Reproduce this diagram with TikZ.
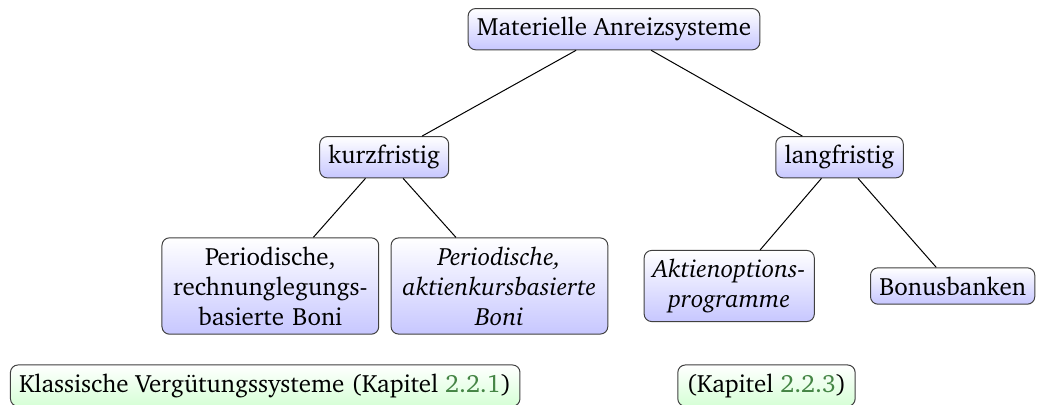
\documentclass[tikz,border=0pt]{standalone}
\usepackage[T1]{fontenc}
\usepackage{charter}
\usepackage{tikz}
\definecolor{linkgreen}{rgb}{0.27,0.52,0.27}
\tikzstyle{topic} = [draw=black!75, rounded corners=3pt, top color=white, bottom color=blue!22, inner sep=3.5pt, align=center]
\tikzstyle{chapter} = [draw=black!75, rounded corners=3pt, top color=white, bottom color=green!16, inner sep=3.5pt, anchor=west]
\tikzstyle{branch} = [draw, thin]

\begin{document}
\begin{tikzpicture}
    \useasboundingbox (0,0) rectangle (14.59,-5.69);
    \node[topic] (anreiz) at (8.63,-0.41) {Materielle Anreizsysteme};
    \node[topic] (kurz) at (5.40,-2.21) {kurzfristig};
    \node[topic] (lang) at (11.80,-2.21) {langfristig};
    \node[topic, text width=2.8cm] (rechnung) at (3.80,-4.02) {Periodische,\\ rechnunglegungs-\\ basierte Boni};
    \node[topic, text width=2.8cm, font=\itshape] (aktienkurs) at (7.02,-4.02) {Periodische,\\ aktienkursbasierte\\ Boni};
    \node[topic, font=\itshape] (optionen) at (10.25,-4.02) {Aktienoptions-\\ programme};
    \node[topic] (bonus) at (13.39,-4.02) {Bonusbanken};
    \node[chapter] (klassisch) at (0.14,-5.42) {Klassische Verg\"utungssysteme (Kapitel \textcolor{linkgreen}{2.2.1})};
    \node[chapter] (kapitel) at (9.52,-5.42) {(Kapitel \textcolor{linkgreen}{2.2.3})};
    \draw[branch] (anreiz) -- (kurz);
    \draw[branch] (anreiz) -- (lang);
    \draw[branch] (kurz) -- (rechnung);
    \draw[branch] (kurz) -- (aktienkurs);
    \draw[branch] (lang) -- (optionen);
    \draw[branch] (lang) -- (bonus);
\end{tikzpicture}
\end{document}
